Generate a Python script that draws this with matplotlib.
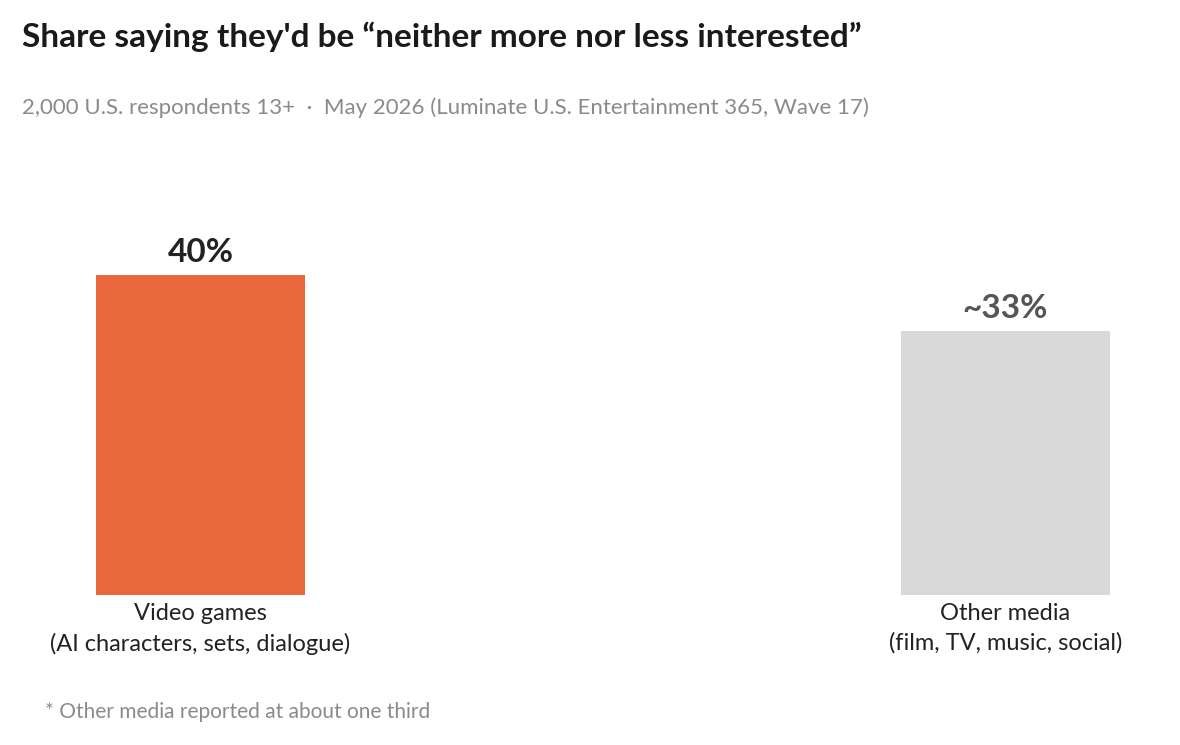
import numpy as np
import matplotlib.pyplot as plt
from matplotlib.figure import Figure
from matplotlib.axes import Axes

plt.rcParams["font.family"] = ["Lato", "DejaVu Sans"]


def plot_share(
    labels: list,
    values: np.ndarray,
    value_text: list,
    colors: list,
    text_colors: list,
    save: str = None,
    size: list = [1180, 745],
):
    fig: Figure = plt.figure(figsize=(size[0] / 100, size[1] / 100), dpi=100)
    ax: Axes = fig.add_axes([0.0, 150 / 745, 1.0, 440 / 745])
    x = np.arange(len(values))
    ax.bar(x, values, width=0.26, color=colors)
    for xi, v, t, c in zip(x, values, value_text, text_colors):
        ax.text(xi, v + 1.0, t, ha="center", va="bottom", fontsize=24,
                fontweight="bold", color=c)
    ax.set_xlim(-0.249, 1.2168)
    ax.set_ylim(0, 55)
    ax.set_xticks(x)
    ax.set_xticklabels(labels, fontsize=17, color="#222222", linespacing=1.45)
    ax.tick_params(axis="x", length=0, pad=6)
    ax.set_yticks([])
    for s in ax.spines.values():
        s.set_visible(False)

    fig.text(0.019, 0.95, "Share saying they'd be \u201cneither more nor less interested\u201d",
             fontsize=24, fontweight="bold", color="#1a1a1a", va="center")
    fig.text(0.019, 0.855, "2,000 U.S. respondents 13+  \u00b7  May 2026 (Luminate U.S. Entertainment 365, Wave 17)",
             fontsize=16, color="#8a8a8a", va="center")
    fig.text(0.038, 0.044, "* Other media reported at about one third",
             fontsize=15, color="#8a8a8a", va="center")
    # plt.show()
    if save:
        fig.savefig(save, dpi=100)
    return fig


plot_share(
    ["Video games\n(AI characters, sets, dialogue)", "Other media\n(film, TV, music, social)"],
    np.array([40, 33]),
    ["40%", "~33%"],
    ["#E8683C", "#D9D9D9"],
    ["#222222", "#555555"],
    save="out.png",
)
